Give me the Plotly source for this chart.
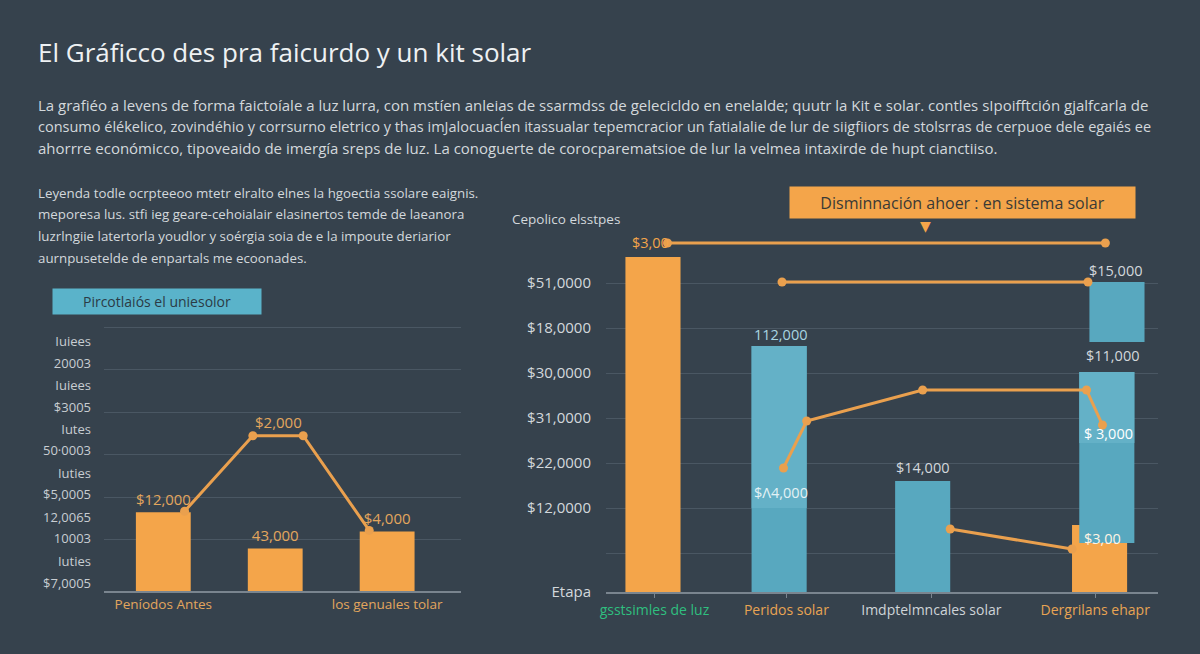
import plotly.graph_objects as go

BG = "#36424d"
ORANGE = "#f4a54a"
LINE_ORANGE = "#eaa04e"
TEAL = "#58a8bf"
TEAL_LIGHT = "#64b1c7"
GRID = "#4a5763"
AXIS = "#7a858f"
TEXT = "#d3d8dc"
TAN = "#e3a65d"
FONT = "Open Sans"

# ---- texts ----
title_text = "El Gráficco des pra faicurdo y un kit solar"
intro_lines = [
    "La grafiéo a levens de forma faictoíale a luz lurra, con mstíen anleias de ssarmdss de gelecicldo en enelalde; quutr la Kit e solar. contles sIpoifftción gjalfcarla de",
    "consumo élékelico, zovindéhio y corrsurno eletrico y thas imJalocuacĺen itassualar tepemcracior un fatialalie de lur de siigfiiors de stolsrras de cerpuoe dele egaiés ee",
    "ahorrre económicco, tipoveaido de imergía sreps de luz. La conoguerte de corocparematsioe de lur la velmea intaxirde de hupt cianctiiso.",
]
intro_sizes = [15, 14.5, 15]
legend_lines = [
    "Leyenda todle ocrpteeoo mtetr elralto elnes la hgoectia ssolare eaignis.",
    "meporesa lus. stfi ieg geare-cehoialair elasinertos temde de laeanora",
    "luzrlngiie latertorla youdlor y soérgia soia de e la impoute deriarior",
    "aurnpusetelde de enpartals me ecoonades.",
]
pill_text = "Pircotlaiós el uniesolor"
right_axis_title = "Cepolico elsstpes"
callout_text = "Disminnación ahoer : en sistema solar"

# ---- left chart data ----
left_bar_x = [0, 1, 2]
left_bar_y = [3700, 2000, 2800]
left_bar_labels = ["$12,000", "43,000", "$4,000"]
left_line_x = [0.19, 0.80, 1.25, 1.84]
left_line_y = [3750, 7300, 7300, 2850]
left_line_label = "$2,000"
left_line_label_pos = (1.03, 7950)
left_tick_vals = [11730, 10680, 9650, 8620, 7580, 6590, 5510, 4520, 3480, 2450, 1410, 360]
left_tick_text = ["Iuiees", "20003", "Iuiees", "$3005", "Iutes", "50·0003", "Iuties",
                  "$5,0005", "12,0065", "10003", "Iuties", "$7,0005"]
left_grid_vals = [2400, 4400, 6400, 8400, 10400, 12400]
left_cat_vals = [0, 2]
left_cat_text = ["Peníodos Antes", "los genuales tolar"]

# ---- right chart data ----
right_orange_x = [0, 3.08]
right_orange_y = [33500, 6700]
right_teal_x = [0.87, 1.86, 3.2, 3.13]
right_teal_base = [0, 0, 25000, 4900]
right_teal_y = [24600, 11100, 6000, 17100]
right_light_x = [0.87, 3.13]
right_light_base = [8400, 14900]
right_light_y = [16200, 7100]

right_lines = [
    ([0.10, 3.12], [34900, 34900]),
    ([0.89, 3.00], [31000, 31000]),
    ([0.90, 1.06, 1.86, 2.99, 3.10], [12400, 17100, 20200, 20200, 16700]),
    ([2.05, 2.89], [6300, 4300]),
]
right_labels = [
    ("$3,00", -0.02, 34900, ORANGE),
    ("$15,000", 3.19, 32200, TEXT),
    ("112,000", 0.88, 25800, "#a9d5e1"),
    ("$11,000", 3.17, 23700, TEXT),
    ("$14,000", 1.86, 12500, TEXT),
    ("$Λ4,000", 0.88, 10000, "#e3f1f5"),
    ("$ 3,000", 3.14, 15900, "#ffffff"),
    ("$3,00", 3.10, 5400, "#fff4e4"),
]
right_tick_vals = [0, 3900, 8400, 12900, 17400, 21900, 26400, 30900]
right_tick_text = ["Etapa", "", "$12,0000", "$22,0000", "$31,0000", "$30,0000",
                   "$18,0000", "$51,0000"]
right_cat_vals = [0.01, 0.92, 1.92, 3.05]
right_cat_text = ["gsstsimles de luz", "Peridos solar", "Imdptelmncales solar", "Dergrilans ehapr"]
right_cat_colors = ["#2fbf7f", "#e8a453", "#cfd4d8", "#e8a453"]


fig = go.Figure()

# left panel
fig.add_trace(go.Bar(
    x=left_bar_x, y=left_bar_y, width=0.49, marker_color=ORANGE, marker_line_width=0,
    text=left_bar_labels, textposition="outside", cliponaxis=False,
    textfont=dict(color=TAN, size=15, family=FONT), xaxis="x", yaxis="y",
))
fig.add_trace(go.Scatter(
    x=left_line_x, y=left_line_y, mode="lines+markers",
    line=dict(color=LINE_ORANGE, width=3), marker=dict(size=9, color=LINE_ORANGE),
    xaxis="x", yaxis="y",
))

# right panel
fig.add_trace(go.Bar(
    x=right_orange_x, y=right_orange_y, width=0.38, marker_color=ORANGE,
    marker_line_width=0, xaxis="x2", yaxis="y2",
))
fig.add_trace(go.Bar(
    x=right_teal_x, y=right_teal_y, base=right_teal_base, width=0.38,
    marker_color=TEAL, marker_line_width=0, xaxis="x2", yaxis="y2",
))
fig.add_trace(go.Bar(
    x=right_light_x, y=right_light_y, base=right_light_base, width=0.38,
    marker_color=TEAL_LIGHT, marker_line_width=0, xaxis="x2", yaxis="y2",
))
for lx, ly in right_lines:
    fig.add_trace(go.Scatter(
        x=lx, y=ly, mode="lines+markers",
        line=dict(color=LINE_ORANGE, width=3), marker=dict(size=9, color=LINE_ORANGE),
        xaxis="x2", yaxis="y2",
    ))


def paper_note(text, px, py, size, color, anchor="left", **extra):
    # px/py are page pixels in the 1200x654 window
    return dict(
        text=text, x=px / 1200, y=1 - py / 654, xref="paper", yref="paper",
        xanchor=anchor, yanchor="middle", showarrow=False,
        font=dict(size=size, color=color, family=extra.pop("family", FONT)), **extra,
    )


annotations = [paper_note(title_text, 36, 52, 26, "#eef1f3")]
for i, (line, size) in enumerate(zip(intro_lines, intro_sizes)):
    annotations.append(paper_note(line, 36, 105 + i * 21.5, size, TEXT))
for i, line in enumerate(legend_lines):
    annotations.append(paper_note(line, 36, 193 + i * 21.5, 13.3, TEXT))
annotations.append(paper_note(pill_text, 157, 301, 14, "#2b3b46", anchor="center",
                              bgcolor="#5ab3ca", width=202, height=19, borderpad=3))
annotations.append(paper_note(right_axis_title, 566, 219, 13.5, TEXT, anchor="center"))
annotations.append(paper_note(callout_text, 962, 203, 16, "#3a3a36", anchor="center",
                              bgcolor=ORANGE, width=337, height=23, borderpad=4))
annotations.append(paper_note("▼", 925, 226, 14, ORANGE, anchor="center", family="DejaVu Sans"))
annotations.append(dict(
    text=left_line_label, x=left_line_label_pos[0], y=left_line_label_pos[1],
    xref="x", yref="y", showarrow=False, font=dict(size=15, color=TAN, family=FONT),
))
for txt, lx, ly, col in right_labels:
    annotations.append(dict(
        text=txt, x=lx, y=ly, xref="x2", yref="y2", showarrow=False,
        font=dict(size=14.5, color=col, family=FONT),
    ))

fig.update_layout(
    width=1200, height=654,
    margin=dict(l=0, r=0, t=0, b=0, autoexpand=False),
    paper_bgcolor=BG, plot_bgcolor=BG,
    showlegend=False, barmode="overlay",
    font=dict(family=FONT, color=TEXT),
    annotations=annotations,
    xaxis=dict(
        domain=[104 / 1200, 461 / 1200], range=[-0.53, 2.66],
        tickvals=left_cat_vals, ticktext=left_cat_text,
        tickfont=dict(size=13.5, color=TAN), showgrid=False, zeroline=False,
        showline=True, linecolor=AXIS, linewidth=1.5, ticks="",
    ),
    yaxis=dict(
        domain=[1 - 591 / 654, 1 - 323 / 654], range=[0, 12600],
        tickvals=left_tick_vals, ticktext=left_tick_text,
        tickfont=dict(size=13, color="#c8cdd2"), showgrid=False, zeroline=False,
        ticklabelstandoff=12,
        minor=dict(tickvals=left_grid_vals, showgrid=True, gridcolor=GRID, gridwidth=1, ticks=""),
    ),
    xaxis2=dict(
        domain=[606 / 1200, 1158 / 1200], range=[-0.324, 3.483],
        tickvals=right_cat_vals,
        ticktext=[f"<span style='color:{c}'>{t}</span>" for t, c in zip(right_cat_text, right_cat_colors)],
        tickfont=dict(size=14), showgrid=False, zeroline=False,
        showline=True, linecolor=AXIS, linewidth=1.5,
        ticks="outside", ticklen=4, tickcolor=AXIS, anchor="y2",
    ),
    yaxis2=dict(
        domain=[1 - 592 / 654, 1 - 227 / 654], range=[0, 36500],
        tickvals=right_tick_vals, ticktext=right_tick_text,
        tickfont=dict(size=15, color=TEXT), showgrid=True, gridcolor=GRID, gridwidth=1,
        zeroline=False, ticklabelstandoff=14, anchor="x2",
    ),
)

fig.write_html(
    "out.html",
    config={"displayModeBar": False},
    post_script="document.body.style.margin='0';document.body.style.background='" + BG + "';",
)
